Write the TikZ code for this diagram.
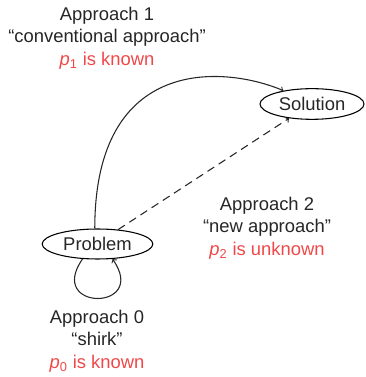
\documentclass[tikz,border=0pt]{standalone}
\usepackage{fontspec}
\setmainfont{Liberation Sans}
\usetikzlibrary{positioning,shapes,arrows}
\definecolor{txtgray}{RGB}{38,38,38}
\definecolor{txtred}{RGB}{240,72,72}

\begin{document}
\begin{tikzpicture}[x=0.75pt,y=0.75pt,
  state/.style={ellipse,draw,line width=0.8pt,inner sep=0pt,text=txtgray},
  label/.style={align=center,text=txtgray,font=\fontsize{13.8}{16.9}\selectfont},
  link/.style={->,line width=0.8pt,color=txtgray}]
\useasboundingbox (0,0) rectangle (366,377);
\node[state,minimum width=83pt,minimum height=22.5pt,font=\fontsize{13.8}{16.9}\selectfont] (problem) at (97.5,133) {Problem};
\node[state,minimum width=78pt,minimum height=23pt,font=\fontsize{13.8}{16.9}\selectfont] (solution) at (312,273) {Solution};
\node[label] (app1) at (107,339) {Approach 1\\``conventional approach''\\\textcolor{txtred}{\textit{p}\textsubscript{1} is known}};
\node[label] (app2) at (267,149) {Approach 2\\``new approach''\\\textcolor{txtred}{\textit{p}\textsubscript{2} is unknown}};
\node[label] (app0) at (97,36) {Approach 0\\``shirk''\\\textcolor{txtred}{\textit{p}\textsubscript{0} is known}};
\draw[link] (problem.100) to[out=90,in=157,out looseness=1.9,in looseness=0.7] (solution.155);
\draw[link,dash pattern=on 6pt off 4pt] (problem.35) -- (solution.212);
\draw[link] (problem.-135) to[out=-125,in=-55,looseness=5.5] (problem.-45);
\end{tikzpicture}
\end{document}
